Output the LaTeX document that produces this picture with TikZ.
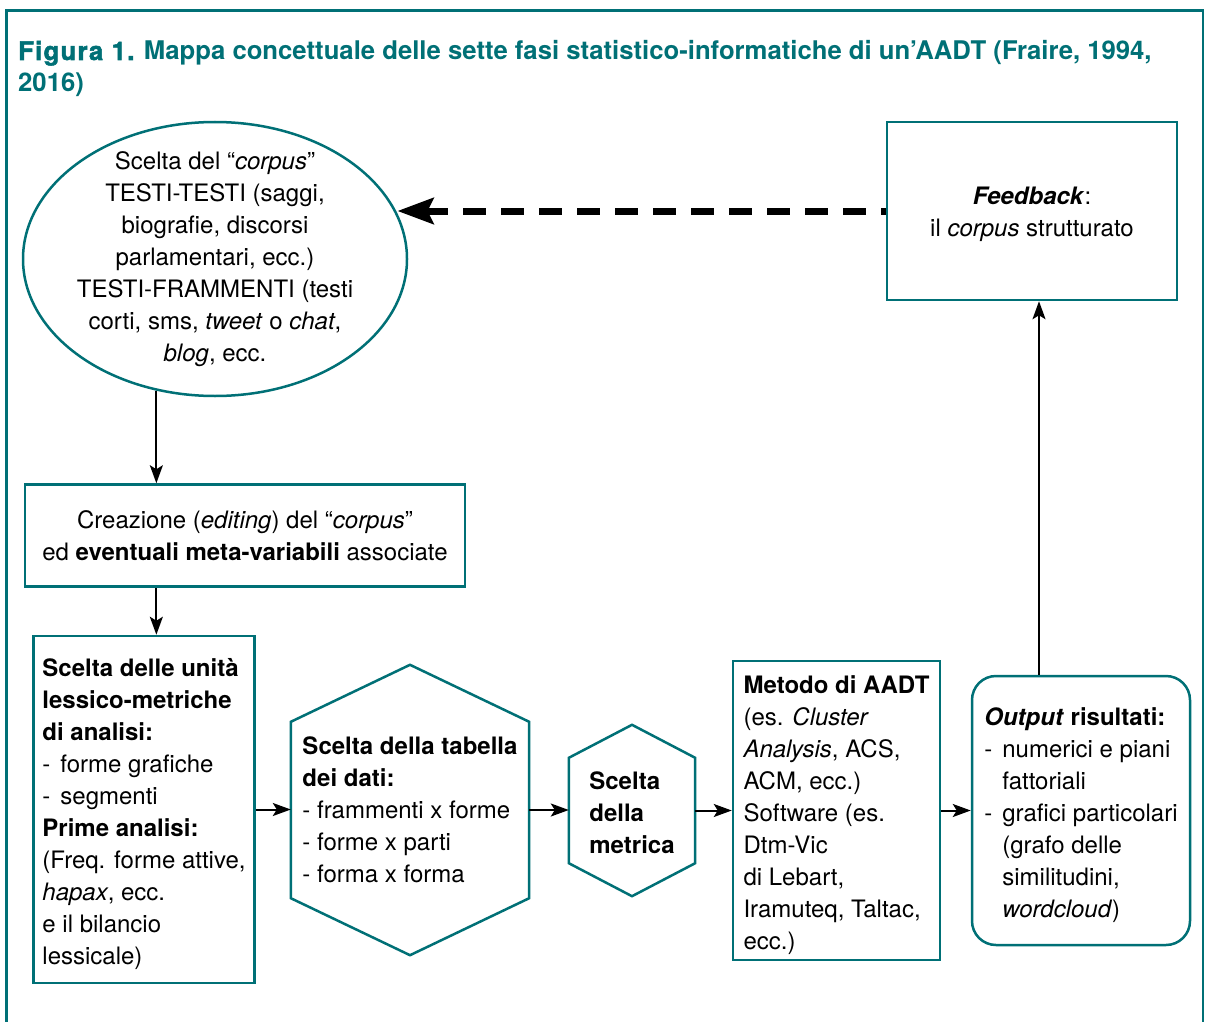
\documentclass[tikz,border=0pt]{standalone}
\usepackage{fontspec}
\setmainfont{TeX Gyre Heros}
\newfontfamily\heavyfont{TeX Gyre Heros}[BoldFeatures={FakeBold=2,LetterSpace=5}]
\usetikzlibrary{shapes.geometric,arrows.meta,calc}
\definecolor{tealc}{RGB}{0,112,118}
\newcommand\mydash{\makebox[18pt][l]{-}}
\newcommand\myind{\hspace*{18pt}}
\newcommand\tstrut[1]{\rule{0pt}{#1}}
\begin{document}
\begin{tikzpicture}[x=1pt,y=-1pt,
  txt/.style={font=\fontsize{24}{32}\selectfont, text=black},
  boxc/.style={draw=tealc, line width=2.5pt, inner sep=0pt, txt},
  arr/.style={draw=black, line width=2pt, -{Stealth[length=18pt,width=13pt,inset=4pt]}},
  darr/.style={draw=black, line width=7pt, dash pattern=on 23pt off 15pt, dash phase=18pt, -{Stealth[length=36pt,width=26pt,inset=6pt]}},
]
\useasboundingbox (0,0) rectangle (1207,1022);
\fill[white] (0,0) rectangle (1207,1022);
\draw[tealc, line width=2.5pt] (6.5,1030) -- (6.5,10.3) -- (1203,10.3) -- (1203,1030);

\node[anchor=base west, inner sep=0pt, align=left, text=tealc, font=\fontsize{25.7}{32}\selectfont\bfseries] (title) at (18,92)
  {{\heavyfont\bfseries Figura 1.} Mappa concettuale delle sette fasi statistico-informatiche di un’AADT (Fraire, 1994,\\2016)};

% ellipse
\node[draw=tealc, line width=2.5pt, ellipse, minimum width=384pt, minimum height=274pt, inner sep=0pt] (ell) at (215,259) {};
\node[txt, align=center, inner sep=0pt] (elltxt) at (ell.center)
  {Scelta del “\textit{corpus}”\\TESTI-TESTI (saggi,\\biografie, discorsi\\parlamentari, ecc.)\\TESTI-FRAMMENTI (testi\\corti, sms, \textit{tweet} o \textit{chat},\\\textit{blog}, ecc.};

% feedback
\node[boxc, minimum width=290pt, minimum height=178pt, align=center] (fb) at (1032,211)
  {\tstrut{24pt}\textbf{\textit{Feedback}}:\\il \textit{corpus} strutturato};

% creazione
\node[boxc, minimum width=440pt, minimum height=102pt, align=center] (cre) at (245,535.5)
  {Creazione (\textit{editing}) del “\textit{corpus}”\\ed \textbf{eventuali meta-variabili} associate};

% unita
\node[boxc, minimum width=221pt, minimum height=347pt, align=left] (uni) at (144,809.5)
  {\tstrut{28pt}\textbf{Scelta delle unità}\\\textbf{lessico-metriche}\\\textbf{di analisi:}\\\mydash forme grafiche\\\mydash segmenti\\\textbf{Prime analisi:}\\(Freq. forme attive,\\\textit{hapax}, ecc.\\e il bilancio\\lessicale)};

% hexagon 1
\node[txt, minimum width=238pt, minimum height=290pt, inner sep=0pt, align=left] (h1) at (410,810)
  {\textbf{Scelta della tabella}\\\textbf{dei dati:}\\- frammenti x forme\\- forme x parti\\- forma x forma};
\draw[tealc, line width=2.5pt, line join=miter] (h1.north) -- ($(h1.north east)+(0,57)$) -- ($(h1.south east)+(0,-57)$) -- (h1.south) -- ($(h1.south west)+(0,-57)$) -- ($(h1.north west)+(0,57)$) -- cycle;

% hexagon 2
\node[txt, minimum width=126pt, minimum height=171pt, inner sep=0pt, align=left] (h2) at (632,810.5)
  {\tstrut{22pt}\textbf{Scelta}\\\textbf{della}\\\textbf{metrica}};
\draw[tealc, line width=2.5pt, line join=miter] (h2.north) -- ($(h2.north east)+(0,33)$) -- ($(h2.south east)+(0,-33)$) -- (h2.south) -- ($(h2.south west)+(0,-33)$) -- ($(h2.north west)+(0,33)$) -- cycle;

% metodo
\node[boxc, minimum width=207pt, minimum height=299pt, align=left] (met) at (836.5,810.5)
  {\tstrut{27pt}\textbf{Metodo di AADT}\\(es. \textit{Cluster}\\\textit{Analysis}, ACS,\\ACM, ecc.)\\Software (es.\\Dtm-Vic\\di Lebart,\\Iramuteq, Taltac,\\ecc.)};

% output
\node[boxc, rounded corners=24pt, minimum width=218pt, minimum height=269pt, align=left] (out) at (1081,810.5)
  {\tstrut{27pt}\textbf{\textit{Output} risultati:}\\\mydash numerici e piani\\\myind fattoriali\\\mydash grafici particolari\\\myind(grafo delle\\\myind similitudini,\\\myind\textit{wordcloud})};

% connectors
\coordinate (fbx) at (1039,0);
\draw[arr] (ell.246.5) -- (ell.246.5 |- cre.north);
\draw[arr] (ell.246.5 |- cre.south) -- (ell.246.5 |- uni.north);
\draw[arr] (uni.east) -- (uni.east -| h1.west);
\draw[arr] (h1.east) -- (h1.east -| h2.west);
\draw[arr] (h2.east) -- (h2.east -| met.west);
\draw[arr] (met.east) -- (met.east -| out.west);
\draw[arr] (fbx |- out.north) -- (fbx |- fb.south);
\draw[darr] (fb.west) -- (fb.west -| ell.14.5);
\end{tikzpicture}
\end{document}
